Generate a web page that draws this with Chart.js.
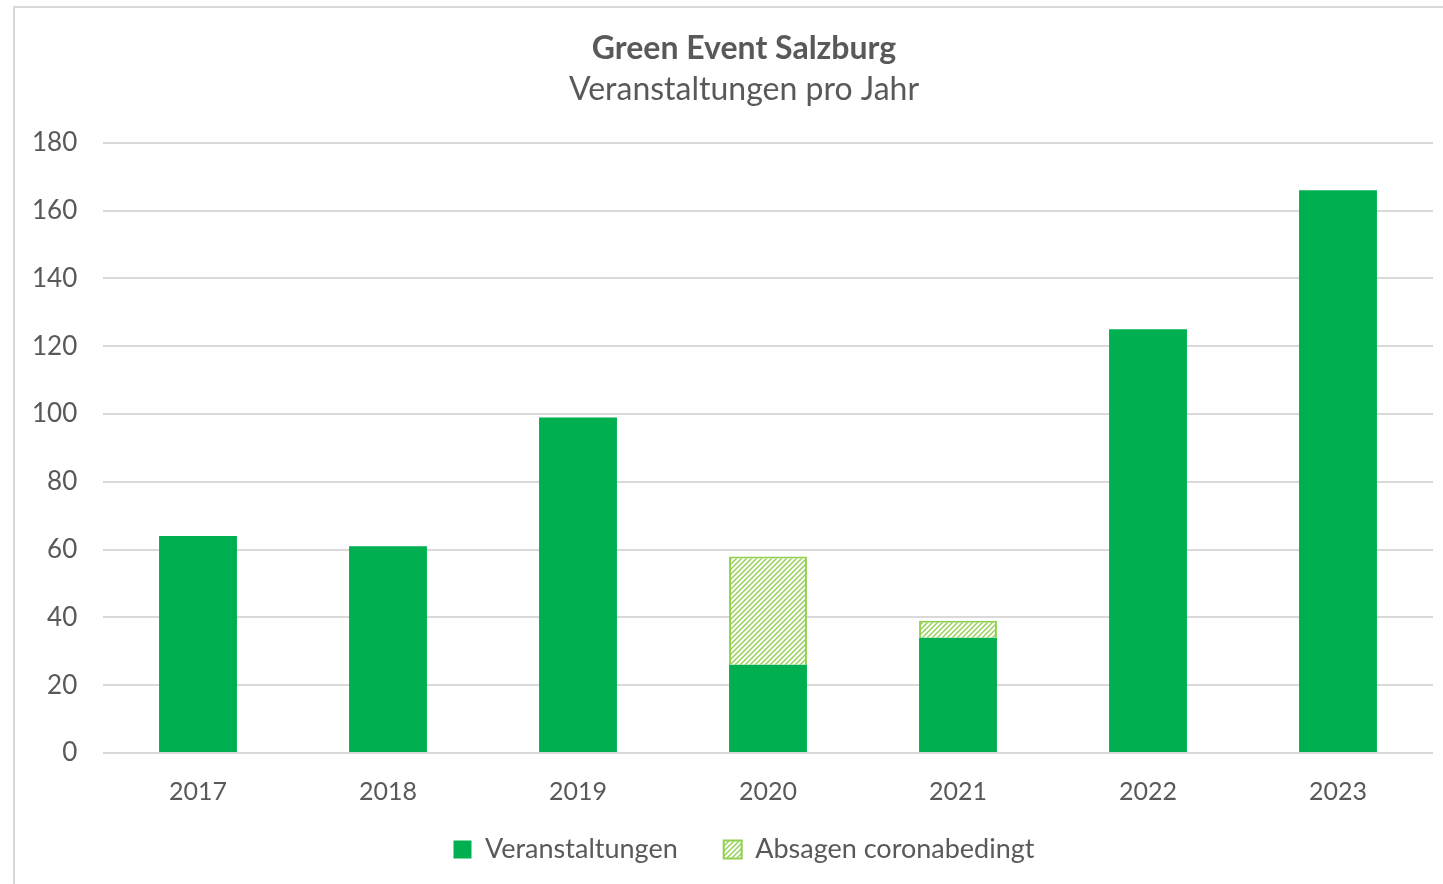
<!DOCTYPE html>
<html>
<head>
<meta charset="utf-8">
<script src="https://cdn.jsdelivr.net/npm/chart.js@4.4.0/dist/chart.umd.min.js"></script>
<style>
    html, body { margin: 0; padding: 0; background: #fff; }
    #frame {
        position: absolute; left: 13px; top: 6px; right: 0; bottom: 0;
        border-left: 2px solid #d9d9d9; border-top: 2px solid #d9d9d9;
    }
    #wrap { position: absolute; left: 0; top: 0; width: 1443px; height: 884px; }
</style>
</head>
<body>
<div id="frame"></div>
<div id="wrap"><canvas id="chart_events"></canvas></div>
<script>
const years = ['2017', '2018', '2019', '2020', '2021', '2022', '2023'];
const veranstaltungen = [64, 61, 99, 26, 34, 125, 166];
const absagen = [null, null, null, 32, 5, null, null];
const yTicks = [0, 20, 40, 60, 80, 100, 120, 140, 160, 180];

const textColor = '#595959';
const fontFamily = 'Lato, "Open Sans", sans-serif';

// diagonal hatch for the cancelled events
function makeHatch() {
    const s = 5;
    const c = document.createElement('canvas');
    c.width = s;
    c.height = s;
    const ctx = c.getContext('2d');
    ctx.fillStyle = '#ffffff';
    ctx.fillRect(0, 0, s, s);
    ctx.strokeStyle = '#92D050';
    ctx.lineWidth = 1.4;
    ctx.beginPath();
    ctx.moveTo(-1, s + 1); ctx.lineTo(s + 1, -1);
    ctx.moveTo(-1, 1); ctx.lineTo(1, -1);
    ctx.moveTo(s - 1, s + 1); ctx.lineTo(s + 1, s - 1);
    ctx.stroke();
    return ctx.createPattern(c, 'repeat');
}
const hatch = makeHatch();

const data = {
    labels: years,
    datasets: [{
        label: 'Veranstaltungen',
        backgroundColor: '#00B050',
        borderColor: '#00B050',
        borderWidth: 0,
        data: veranstaltungen,
    }, {
        label: 'Absagen coronabedingt',
        backgroundColor: hatch,
        borderColor: '#92D050',
        borderWidth: 2,
        data: absagen,
    }]
};

const config = {
    type: 'bar',
    data: data,
    options: {
        responsive: false,
        animation: false,
        datasets: {
            bar: { barPercentage: 0.41, categoryPercentage: 1 }
        },
        layout: { padding: { left: 55, right: 10, top: 0, bottom: 11 } },
        scales: {
            x: {
                stacked: true,
                grid: { display: false },
                border: { display: false },
                // mirrored so the labels are not clipped by the shortened axis box
                ticks: { color: textColor, mirror: true, padding: -54, font: { family: fontFamily, size: 25 } },
                afterFit: (axis) => { axis.height = 37; }
            },
            y: {
                stacked: true,
                min: 0,
                max: 180,
                afterBuildTicks: (axis) => { axis.ticks = yTicks.map(v => ({ value: v })); },
                grid: { color: '#d9d9d9', lineWidth: 2, drawTicks: false },
                border: { display: false },
                // mirrored + negative padding keeps labels left of the plot without clipping
                ticks: { color: textColor, mirror: true, crossAlign: 'far', padding: -71, font: { family: fontFamily, size: 26 } },
                afterFit: (axis) => { axis.width = 48; }
            }
        },
        plugins: {
            title: {
                display: true,
                text: 'Green Event Salzburg',
                color: textColor,
                font: { family: fontFamily, size: 32, weight: 'bold' },
                padding: { top: 29, bottom: 3 }
            },
            subtitle: {
                display: true,
                text: 'Veranstaltungen pro Jahr',
                color: textColor,
                font: { family: fontFamily, size: 32 },
                padding: { top: 0, bottom: 34 }
            },
            legend: {
                position: 'bottom',
                labels: {
                    color: textColor,
                    boxWidth: 18,
                    boxHeight: 18,
                    padding: 46,
                    font: { family: fontFamily, size: 27 }
                }
            },
            tooltip: { enabled: false }
        }
    }
};

const canvas = document.getElementById('chart_events');
canvas.width = 1443;
canvas.height = 884;
const myChart = new Chart(canvas, config);
</script>
</body>
</html>
